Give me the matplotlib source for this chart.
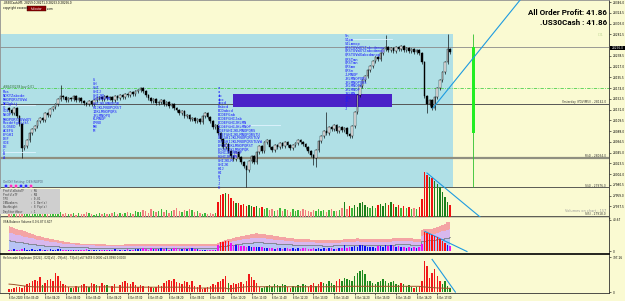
import matplotlib
matplotlib.use("Agg")
import matplotlib.pyplot as plt
from matplotlib.patches import Rectangle, Circle
import numpy as np

# ---------------- data ----------------
first_open = 28134
close = [28130,28124,28134,28118,28102,28054,28058,28070,28084,28092,
         28098,28108,28114,28110,28124,28120,28132,28136,28142,28152,
         28158,28156,28150,28154,28152,28158,28150,28154,28148,28144,
         28142,28148,28142,28150,28154,28156,28152,28158,28154,28156,
         28150,28158,28154,28160,28156,28162,28160,28166,28162,28168,
         28170,28174,28168,28160,28154,28148,28152,28144,28146,28150,
         28142,28146,28138,28142,28134,28130,28124,28128,28118,28120,
         28112,28114,28108,28112,28106,28118,28124,28116,28108,28096,
         28100,28084,28072,28056,28062,28048,28038,28032,28046,28036,
         28026,28018,28010,28028,28038,28026,28046,28058,28048,28066,
         28070,28056,28050,28060,28056,28064,28058,28066,28060,28054,
         28060,28064,28070,28066,28062,28056,28048,28040,28034,28050,
         28068,28078,28088,28084,28096,28092,28100,28088,28096,28090,
         28094,28082,28078,28098,28126,28160,28178,28190,28198,28210,
         28218,28228,28236,28232,28244,28252,28256,28250,28254,28248,
         28256,28252,28258,28250,28254,28248,28252,28246,28250,28244,
         28226,28158,28142,28150,28134,28156,28174,28190,28206,28226,
         28252,28246]
wick_pad = 3
ext_high = {20: 28180, 123: 28126, 146: 28280, 170: 28282}
ext_low = {5: 28034, 92: 27976, 118: 28020, 119: 28016, 162: 28124}

volume = [40,35,60,30,45,55,70,40,35,50,45,30,60,40,35,45,50,30,40,65,55,35,40,
          30,35,40,25,45,30,35,50,40,30,25,35,45,30,40,35,30,45,50,35,40,30,45,55,40,35,60,50,
          55,70,60,45,80,65,50,60,85,55,70,45,60,75,90,65,55,70,60,85,75,50,65,40,35,45,30,40,35,45,
          150,220,230,240,235,190,160,140,145,120,130,110,125,115,105,110,95,100,80,90,
          70,85,60,75,90,65,80,70,55,85,60,75,65,80,70,
          60,55,70,65,80,60,75,55,70,85,65,60,75,90,150,
          80,110,95,120,100,140,150,120,100,95,110,90,120,130,110,140,120,150,135,100,
          120,95,110,90,105,80,95,85,100,180,
          450,420,400,390,360,330,300,250,200,150,120]

vsa_total = ([32.5,31.3,30.2,29,27.8,26.7,25.5,24.4,23.2,22,20.9]
             + [20,19.2,18.4,17.6,16.8,16,15.3,14.6,14,13.4]
             + [12.8,12.3,11.8,11.4,11,10.6,10.3,10,9.8,9.6,9.4,9.3,9.2,9.1,9]
             + [9,9,8.8,8.8,8.7,8.7,8.6,8.6,8.8,9,9.2,9.4,9.5,9.5,9.4,9.3,9.2,9.2,9.3,9.4,9.6,9.8,9.8,
                9.7,9.6,9.5,9.4,9.3,9.3,9.2,9.2,9.1,9,9,9,9.1,9.2,9.2,9.3,9.3,9.4,9.5,9.6,9.7,9.8]
             + [11,12.5,13.5,14.5,15.5,16.2,17,17.8,18.5,19.2,20,20.8,21.5,22,22.5,23,22.8,22.5,22,21.5]
             + [21,20.5,20,19.5,19,18.5,18,17.6,17.2,16.8,16.5,16.2,16,15.8,15.5,15.3,15,14.8,14.6,14.5]
             + [14.5,14.4,14.3,14.3,14.4,14.5,14.6,14.8,15,15.3,15.6,16,16.3,16.5,16.6,16.5,16.4,16.3,16.2,16]
             + [16,15.8,15.6,15.5,15.6,15.8,16,16.3,16.6,17,17.2,17.3,17.2,17,16.8,16.6,16.5,16.4,16.3]
             + [27,28,28,28,28.5,29.5,31,32.5,34,35.5,37,38])
vsa_mid = ([24,23,22.5,21.5,21,20,19,18.5,17.5,17,16]
           + [15,14.5,14,13.5,13,12.5,12,11.5,11,10.5]
           + [10,9.8,9.5,9.2,9,8.8,8.6,8.4,8.2,8,7.9,7.8,7.7,7.6,7.5]
           + [7.4,7.3,7.2,7.1,7,7,7,7,7.1,7.2,7.3,7.4,7.5,7.5,7.4,7.3,7.3,7.2,7.3,7.4,7.5,7.6,7.6,
              7.5,7.5,7.4,7.3,7.3,7.2,7.2,7.1,7.1,7,7,7,7.1,7.1,7.2,7.2,7.3,7.3,7.4,7.5,7.6,7.6]
           + [8.5,9.5,10.3,11,11.8,12.4,13,13.6,14.2,14.7,15.3,15.8,16.3,16.7,17,17.3,17.2,17,16.7,16.3]
           + [16,15.6,15.2,14.8,14.5,14.1,13.8,13.5,13.2,12.9,12.7,12.5,12.3,12.2,12,11.8,11.6,11.5,11.3,11.2]
           + [11.2,11.1,11.1,11,11.1,11.2,11.3,11.4,11.6,11.8,12,12.3,12.5,12.7,12.8,12.7,12.6,12.5,12.4,12.3]
           + [12.3,12.2,12,12,12,12.2,12.3,12.5,12.8,13,13.2,13.3,13.2,13.1,13,12.8,12.7,12.6,12.5]
           + [20,21,21,21.5,22,22.5,23.5,24.5,25.5,26.5,27.5,28.5])
vsa_low = ([14,13.5,13,12.5,12,11.5,11,10.5,10,9.5,9]
           + [8.6,8.2,7.8,7.5,7.2,7,6.8,6.6,6.4,6.2]
           + [6,5.9,5.8,5.7,5.6,5.5,5.4,5.3,5.2,5.1,5,5,5,5,5]
           + [5.0] * 45
           + [5.8,6.4,7,7.5,8,8.4,8.8,9.2,9.6,10,10.4,10.8,11.1,11.4,11.6,11.8,11.7,11.6,11.4,11.2]
           + [11,10.7,10.4,10.1,9.9,9.6,9.4,9.2,9,8.8,8.7,8.5,8.4,8.3,8.2,8.1,8,7.9,7.8,7.7]
           + [7.7,7.6,7.6,7.5,7.6,7.7,7.8,7.8,8,8.1,8.3,8.5,8.6,8.7,8.8,8.7,8.6,8.6,8.5,8.4]
           + [8.4,8.3,8.2,8.2,8.2,8.3,8.4,8.6,8.8,8.9,9,9.1,9,9,8.9,8.8,8.7,8.6,8.6]
           + [13,13.5,14,14,14.5,15,15.5,16,16.5,17,17.5,18])

ha_explosion = [-30,-40,-50,-60,-60,-50,-70,-90,-100,-120,-140,-130,-170,80,-100,-140,-150,-120,-220,-180,
                -120,-90,-80,-60,50,-50,-70,60,-80,-90,-70,60,-100,-90,80,-70,-100,-80,80,0,
                -70,-90,0,-80,-110,-120,-100,-90,-110,-80,-60,-80,-70,0,-70,-60,50,-60,-80,-70,
                -100,-130,-140,-120,-150,-110,-100,-90,-120,-110,-80,-120,-70,-60,-80,-40,-50,-60,-70,-90,
                -80,-110,-120,-150,-180,100,-80,-100,-90,-100,-110,-90,-120,-200,-170,-140,-100,-60,50,60,
                70,80,60,90,80,70,90,80,-60,-50,70,60,80,70,90,80,-60,-80,-100,70,
                -90,-110,100,90,120,100,80,-130,-150,130,160,150,140,120,180,220,240,250,200,130,
                120,100,90,110,130,150,120,100,110,120,90,80,-100,90,70,80,60,-50,60,-70,
                -120,-350,-300,-160,-220,-260,-180,-130,90,120,70,50]
ha_deadzone = ([90,88,85,80,76,72,68,65,62,60] + [58] * 30 + [55] * 30 + [45] * 15
               + [35,38,42,46,50,54,57,60,62,63] + [60] * 35 + [65] * 30
               + [60,58,55,52,50,48,46,45,44,43,42,42])

# daily candle, session box, zone, levels, trendlines
d1_open, d1_high, d1_low, d1_close = 28084, 28282, 27976, 28256
d1_index = 180
session_end = 172.1
zone_start, zone_end, zone_lo, zone_hi = 86.8, 148.4, 28136, 28162
lvl_current, lvl_order, lvl_yday, lvl_r4, lvl_s4, lvl_s5 = 28256, 28174, 28142, 28034, 27976, 27918
trend_main = ([164.3, 198.1], [28134, 28350])
trend_vol = ([162.0, 182.6], [440, 0])
trend_vsa = ([161.2, 177.5], [25.5, 0])
trend_ha = ([164.0, 173.0], [370, 0])

price_ticks = [28346.0, 28324.5, 28303.0, 28281.5, 28238.5, 28217.0, 28195.5, 28174.0,
               28152.5, 28131.0, 28109.5, 28088.0, 28066.5, 28045.0, 28023.5, 28002.0, 27980.5,
               27959.0, 27937.5]
time_idx = [0, 6, 14, 22, 30, 38, 46, 54, 62, 70, 78, 86, 94, 102, 110, 118, 126, 134, 142, 150, 158, 166]
time_labels = ["6 Oct 2020", "6 Oct 03:40", "6 Oct 04:20", "6 Oct 05:00", "6 Oct 05:40", "6 Oct 06:20",
               "6 Oct 07:00", "6 Oct 07:40", "6 Oct 08:20", "6 Oct 09:00", "6 Oct 09:40", "6 Oct 10:20",
               "6 Oct 11:00", "6 Oct 11:40", "6 Oct 12:20", "6 Oct 13:00", "6 Oct 13:40", "6 Oct 14:20",
               "6 Oct 15:00", "6 Oct 15:40", "6 Oct 16:20", "6 Oct 17:00"]

prof_left = ["Rbs", "NOXYZabcde", "MNOPQRSTUVW", "NPQghij", "Q", "CDE", "NSOP", "MNOPQRSTUVWXY",
             "Rbcdefghijkl", "CLOSED", "ACEFG", "EFGHI", "DEF", "CDE", "DE", "C", "B", "A"]
prof_mid = ["G", "GH", "GHI", "GHIJ", "GHIJKL", "GHIJKLMN", "GHIJKLMNOPQR", "HIJKLMNOPQRST",
            "IJKLMNOPQRS", "JKLMNOPQ", "KLMNOP", "LMNO", "MN", "M"]
prof_c3 = ["a", "a", "ab", "abc", "abcd", "Babcd", "BCDabcd", "BCDEFGab", "BCDEFGHIJab", "BCDEFGHIJKLMN",
           "BCDEFGHIJKLMNOP", "CDEFGHIJKLMNOPQRS", "CDEFGHIJKLMNOPQRSTU", "DEFGHIJKLMNOPQRSTUV",
           "DEFGHIJKLMNOPQRSTUVW", "EFGHIJKLMNOPQRST", "EFGHIJKLMNOPQR", "FGHIJKLMNOP", "FGHIJKLMN",
           "GHIJKLM", "GHIJK", "HIJ", "HI", "H", "I", "J", "K"]
prof_c4 = ["Sn", "SJpm", "SJLmnop", "QRSTUVWXYZabcdmnop", "QRSTUVWXYZabcdmnop", "QRSTUVWXabcdmnop",
           "QRSTmn", "QRSTmn", "QRSmn", "QRSn", "JLMNOP", "JKLMNOPQRS", "JKLMNOPQRS", "JKLMNOPQ",
           "JKLMNOP", "JKLMN", "JKL", "JK", "J", "J"]
info_lines = ["ProfileDataTF    : M5", "ProfileTF        : M4", "TPO              : 0.01",
              "IBNumbers        : 1 Bar(s)", "BoxHeight        : 8 Pip(s)", "DayStartHour     : 1"]

# ---------------- figure ----------------
W, H = 625, 301
CREAM = '#FAFAD2'
BLUEBOX = '#B0E0E6'
fig = plt.figure(figsize=(W / 100, H / 100), dpi=100)
fig.patch.set_facecolor(CREAM)

BAR_PX, X0_PX, RIGHT_PX = 2.58, 9.0, 609.0
XLIM = ((0 - X0_PX) / BAR_PX, (RIGHT_PX - X0_PX) / BAR_PX)


def px_axes(x0, y0, x1, y1, z=1):
    return fig.add_axes([x0 / W, 1 - y1 / H, (x1 - x0) / W, (y1 - y0) / H], zorder=z)


n = len(close)
idx = np.arange(n)
c = np.array(close, float)
o = np.array([first_open] + close[:-1], float)
hi = np.maximum(o, c) + wick_pad
lo = np.minimum(o, c) - wick_pad
for k, v in ext_high.items():
    hi[k] = v
for k, v in ext_low.items():
    lo[k] = v
up = c >= o

# main price panel
ax = px_axes(0, 0, 609, 218, z=1)
ax.set_facecolor(CREAM)
ax.set_xlim(*XLIM)
ax.set_ylim(27914, 28350)
ax.add_patch(Rectangle((XLIM[0], d1_low), session_end - XLIM[0], d1_high - d1_low,
                       facecolor=BLUEBOX, edgecolor='none', zorder=0))
ax.add_patch(Rectangle((zone_start, zone_lo), zone_end - zone_start, zone_hi - zone_lo,
                       facecolor='#4A22C8', edgecolor='none', zorder=2))
ax.axhline(lvl_current, color='#8a8a8a', lw=0.6, zorder=1)
ax.axhline(lvl_order, color='#4CD04C', lw=0.6, dashes=(4, 1.5, 1, 1.5), zorder=1)
ax.axhline(lvl_yday, color='#555555', lw=0.7, zorder=1)
ax.axhline(lvl_r4, color='#8f8f80', lw=1.6, zorder=1)
ax.axhline(lvl_s4, color='#404040', lw=0.6, zorder=1)
ax.axhline(lvl_s5, color='#404040', lw=0.6, zorder=1)
ax.vlines(idx, lo, hi, color='black', lw=0.45, zorder=3)
bh = np.maximum(np.abs(c - o), 1.0)
ax.bar(idx, bh, bottom=np.minimum(o, c), width=0.62,
       color=np.where(up, 'white', 'black'), edgecolor='black', lw=0.3, zorder=4)
ax.vlines(d1_index, d1_low, d1_high, color='#2EC02E', lw=0.6, zorder=3)
ax.add_patch(Rectangle((d1_index - 0.6, d1_open), 1.2, d1_close - d1_open,
                       facecolor='#22EE22', edgecolor='none', zorder=4))
ax.plot(*trend_main, color='#1E9BE0', lw=0.8, zorder=5)
ax.yaxis.tick_right()
ax.set_yticks(price_ticks)
ax.set_yticklabels([f"{p:.1f}" for p in price_ticks], fontsize=2.1)
ax.tick_params(axis='y', length=1.5, width=0.4, pad=1)
ax.set_xticks([])
for s in ['top', 'left']:
    ax.spines[s].set_color('#909090')
    ax.spines[s].set_linewidth(0.6)
ax.spines['right'].set_color('#303030')
ax.spines['right'].set_linewidth(0.6)
ax.spines['bottom'].set_color('#202020')
ax.spines['bottom'].set_linewidth(1.0)

# volume overlay in main panel
vax = px_axes(0, 160, 609, 217, z=2)
vax.patch.set_alpha(0)
vax.set_xlim(*XLIM)
vax.set_ylim(0, 570)
vol = np.array(volume, float)
vcol = np.where(up, np.where(vol >= 100, '#1B7F1B', '#3CB83C'), np.where(vol >= 100, '#F01010', '#F08080'))
vax.bar(idx, vol, width=0.55, color=vcol, lw=0)
vax.plot(*trend_vol, color='#1E9BE0', lw=0.8)
vax.axis('off')

# VSA panel
sax = px_axes(0, 218, 609, 254, z=1)
sax.set_facecolor(CREAM)
sax.set_xlim(*XLIM)
sax.set_ylim(-3.2, 42.6)
sax.fill_between(idx, 0, vsa_total, step='mid', color='#F4A4A4', lw=0)
sax.fill_between(idx, 0, vsa_mid, step='mid', color='#D8B8EE', lw=0)
sax.fill_between(idx, 0, vsa_low, step='mid', color='#B8C4F4', lw=0)
sax.step(idx, vsa_low, where='mid', color='#707070', lw=0.5)
sax.plot(*trend_vsa, color='#1E9BE0', lw=0.8, zorder=5)
sax.yaxis.tick_right()
sax.set_yticks([0, 40.67])
sax.set_yticklabels(["0", "40.67"], fontsize=2.1)
sax.tick_params(axis='y', length=1.5, width=0.4, pad=1)
sax.set_xticks([])
sax.spines['bottom'].set_color('black')
sax.spines['bottom'].set_linewidth(1.2)
sax.spines['top'].set_visible(False)
sax.spines['left'].set_color('#909090')
sax.spines['right'].set_color('#303030')
for s in ['left', 'right']:
    sax.spines[s].set_linewidth(0.6)

bax = px_axes(0, 218, 609, 254, z=2)
bax.patch.set_alpha(0)
bax.set_xlim(*XLIM)
bax.set_ylim(-60, 780)
bcol = np.where(vol >= 200, '#FF1010', np.where(up, '#1010F0', '#F010F0'))
bax.bar(idx, vol, width=0.6, color=bcol, lw=0)
bax.axis('off')

# Heikin ashi explosion panel
hax = px_axes(0, 255, 609, 293, z=1)
hax.set_facecolor(CREAM)
hax.set_xlim(*XLIM)
hax.set_ylim(-11, 420)
hv = np.array(ha_explosion, float)
hax.bar(idx, np.abs(hv), width=0.55, color=np.where(hv >= 0, '#1E8A1E', '#F01818'), lw=0)
hax.plot(idx, ha_deadzone, color='#A0522D', lw=0.7)
hax.plot(*trend_ha, color='#1E9BE0', lw=0.8)
hax.yaxis.tick_right()
hax.set_yticks([0, 397.16])
hax.set_yticklabels(["0", "397.16"], fontsize=2.1)
hax.tick_params(axis='y', length=1.5, width=0.4, pad=1)
hax.set_xticks(time_idx)
hax.set_xticklabels(time_labels, fontsize=1.8, ha='left')
hax.tick_params(axis='x', length=1.5, width=0.4, pad=0.8)
hax.spines['top'].set_visible(False)
hax.spines['left'].set_color('#909090')
hax.spines['right'].set_color('#303030')
hax.spines['bottom'].set_color('#303030')
for s in ['left', 'right', 'bottom']:
    hax.spines[s].set_linewidth(0.6)

# text overlay in pixel coordinates
ov = fig.add_axes([0, 0, 1, 1], zorder=10)
ov.set_xlim(0, W)
ov.set_ylim(H, 0)
ov.axis('off')
ov.patch.set_alpha(0)

ov.text(3, 3, ".US30Cash,M5  28259.0 28271.0 28253.0 28256.0", fontsize=2.0, va='center')
ov.text(3, 8.5, "copyright xxxxxxx", fontsize=2.0, va='center')
ov.add_patch(Rectangle((27, 6), 19, 5, facecolor='#8B0000', edgecolor='#400000', lw=0.3))
ov.text(36.5, 8.5, "Indicator", fontsize=1.9, color='white', ha='center', va='center')
ov.text(47, 8.5, ".com", fontsize=2.0, va='center')

bigfont = ['Liberation Sans Narrow', 'Roboto', 'DejaVu Sans']
ov.text(607, 12.5, "All Order Profit: 41.86", fontsize=5.8, fontweight='bold', family=bigfont,
        ha='right', va='center')
ov.text(607, 22.5, ".US30Cash : 41.86", fontsize=5.8, fontweight='bold', family=bigfont,
        ha='right', va='center')
ov.text(601, 35, "D1", fontsize=3.2, color='#C8DCA0', ha='center', va='center')

ov.add_patch(Rectangle((610, 45.5), 15, 4.5, facecolor='black', edgecolor='none'))
ov.text(617.5, 47.8, "28256.0", fontsize=2.1, color='white', ha='center', va='center')

ov.text(3, 87.3, "#88430238 buy 0.01", fontsize=2.1, color='#2a6a2a', va='center')
ov.text(606, 102.4, "Yesterday (YDV(M5)) - 28142.0", fontsize=2.1, color='#303030', ha='right', va='center')
ov.text(606, 155.6, "R(4) - 28034.0", fontsize=2.1, color='#303030', ha='right', va='center')
ov.text(606, 185.6, "S(4) - 27976.0", fontsize=2.1, color='#303030', ha='right', va='center')
ov.text(606, 214.4, "S(5) - 27918.0", fontsize=2.1, color='#303030', ha='right', va='center')
ov.text(606, 210.5, "Volumes on chart : 157", fontsize=2.5, color='#9a9a9a', ha='right', va='center')

mono = 'DejaVu Sans Mono'
for k, s in enumerate(prof_left):
    ov.text(3, 92 + 3.9 * k, s, fontsize=2.7, family=mono, color='#1a1aff', va='center')
for k, s in enumerate(prof_mid):
    ov.text(93, 80 + 3.9 * k, s, fontsize=2.7, family=mono, color='#1a1aff', va='center')
for k, s in enumerate(prof_c3):
    ov.text(218, 88 + 3.85 * k, s, fontsize=2.7, family=mono, color='#1a1aff', va='center')
for k, s in enumerate(prof_c4):
    ov.text(345, 36 + 3.85 * k, s, fontsize=2.7, family=mono, color='#1a1aff', va='center')
ov.plot([2, 35], [105, 105], color='#E0F4FF', lw=0.6)
ov.plot([2, 35], [152, 152], color='#E0F4FF', lw=0.6)
ov.plot([218, 280], [125, 125], color='#E0F4FF', lw=0.6)
ov.plot([345, 392], [39, 39], color='#E0F4FF', lw=0.6)

ov.text(3, 181.5, "On/Off Setting: D4S(NUPO)", fontsize=2.2, color='#50607a', va='center')
for k, col in enumerate(['#3030FF', '#FF30C0', '#FF30C0', '#3030FF', '#3030FF', '#FF30C0']):
    ov.add_patch(Circle((6 + 5 * k, 186), 1.7, facecolor=col, edgecolor='white', lw=0.2))
ov.add_patch(Rectangle((0, 188.5), 60, 25, facecolor='#CFCFCF', edgecolor='none'))
for k, s in enumerate(info_lines):
    ov.text(3, 191 + 4.1 * k, s, fontsize=2.0, family=mono, color='#404040', va='center')

ov.text(3, 222, "VSA Balance Volume 0.0 6.87 0.607", fontsize=2.0, color='#202020', va='center')
ov.text(3, 258.5, "Heikin ashi Explosion [0024] - 020[x5] - 09[x6] - 73[x3] x67.9459 0.0000 x23.0990 0.0000",
        fontsize=2.0, color='#202020', va='center')

fig.savefig("out.png", dpi=100, facecolor=CREAM)
